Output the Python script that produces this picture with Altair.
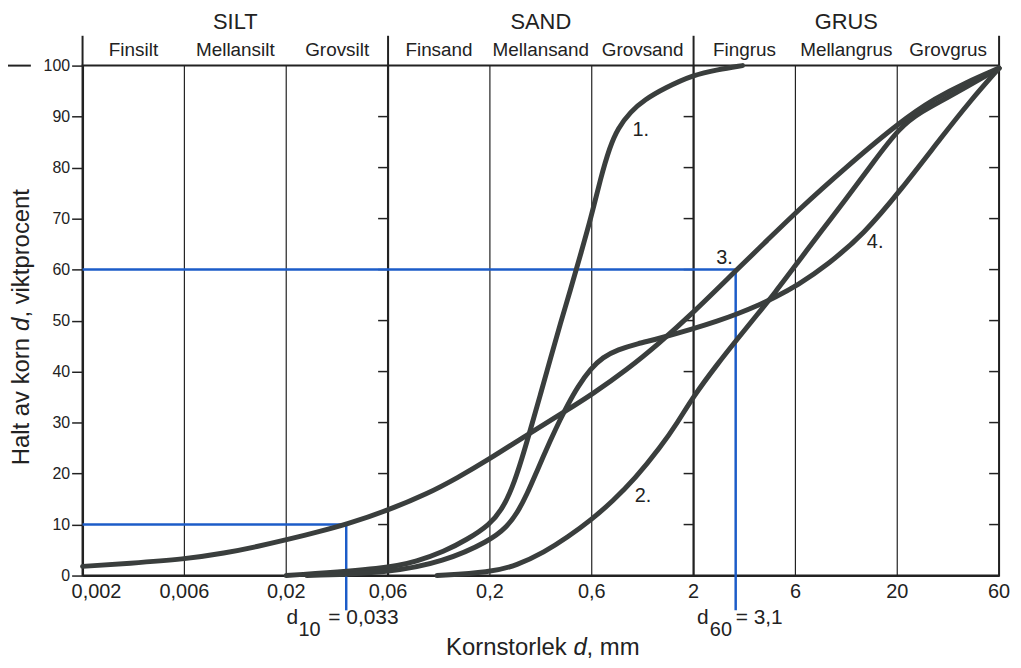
import math
import altair as alt
import pandas as pd

# ---------------- data ----------------
grid_values = [0.002, 0.006, 0.02, 0.06, 0.2, 0.6, 2, 6, 20, 60]
grid_labels = ["0,002", "0,006", "0,02", "0,06", "0,2", "0,6", "2", "6", "20", "60"]
main_bounds = [0.002, 0.06, 2, 60]
main_names = ["SILT", "SAND", "GRUS"]
sub_names = ["Finsilt", "Mellansilt", "Grovsilt", "Finsand", "Mellansand",
             "Grovsand", "Fingrus", "Mellangrus", "Grovgrus"]
y_ticks = [0, 10, 20, 30, 40, 50, 60, 70, 80, 90, 100]
inner_tick_lines = [0.06, 2, 60]
inner_tick_pct = [10, 20, 30, 40, 50, 60, 70, 80, 90]
thick_lines = [0.06, 2]

# curve 1
c1_d = [0.02, 0.06, 0.0845, 0.116, 0.152, 0.2, 0.228, 0.254, 0.283, 0.309, 0.345,
        0.384, 0.428, 0.477, 0.532, 0.594, 0.667, 0.742, 0.816, 0.951, 1.12, 1.42,
        2.0, 2.59, 3.39]
c1_p = [0, 1.4, 2.8, 4.7, 7, 10, 13, 17, 23, 28.5, 35.5,
        42.5, 49.5, 56, 63, 70, 78, 84, 87.7, 91, 93.3, 95.6,
        98.2, 99.2, 100]
# curve 2
c2_d = [0.107, 0.2, 0.268, 0.36, 0.462, 0.6, 0.769, 0.997, 1.354, 1.656, 2.0,
        2.59, 3.21, 3.98, 4.78, 6.14, 8.25, 10.7, 14.9, 20.6, 26.0, 33.7, 60]
c2_p = [0, 0.6, 2, 4.6, 7.5, 11, 14.6, 18.9, 25.2, 30, 35.2,
        41.5, 46.4, 51.2, 55.3, 61.3, 67.8, 73.4, 80.8, 88.0, 91, 93.5, 99.5]
# curve 3
c3_d = [0.002, 0.0033, 0.006, 0.0097, 0.01425, 0.02, 0.0279, 0.0382, 0.06, 0.0951,
        0.1354, 0.2, 0.309, 0.462, 0.6, 0.918, 1.308, 2.0, 3.14, 4.44, 6.14, 10.7,
        20.6, 30.4, 41.6, 60]
c3_p = [1.8, 2.4, 3.2, 4.4, 5.7, 7.0, 8.5, 10, 12.8, 16.0,
        19.1, 22.9, 28, 32.5, 35.5, 40.5, 45.3, 51.6, 59.7, 65.8, 71.5, 79.8,
        89, 93.7, 96.6, 99.5]
# curve 4
c4_d = [0.025, 0.06, 0.116, 0.2, 0.241, 0.268, 0.299, 0.333, 0.384, 0.428, 0.462,
        0.515, 0.594, 0.683, 0.816, 1.033, 1.308, 2.0, 2.59, 3.21, 3.98, 4.78,
        6.14, 8.75, 13.5, 20.6, 32.7, 43.8, 60]
c4_p = [0, 0.5, 2.7, 6.8, 9.6, 12.2, 16.0, 20.6, 26.5, 30.7, 33.4,
        37, 40.6, 42.8, 44.3, 45.5, 46.4, 48.4, 49.9, 51.3, 52.9, 54.5,
        56.9, 60.9, 67, 75.4, 86.3, 93, 99.5]

label_names = ["1.", "2.", "3.", "4."]
label_d = [1.07, 1.10, 2.79, 15.4]
label_p = [87.3, 15.6, 62.3, 65.5]

ref_d = [0.0382, 3.15]
ref_p = [10, 60]
ref_sub = ["10", "60"]
ref_val = ["= 0,033", "= 3,1"]

# ---------------- styling ----------------
FONT = "Liberation Sans"
INK = "#222222"
CURVE = "#3a3e3d"
BLUE = "#1c5cc8"
W, H = 922, 513

# the printed grid puts every size class at an equal distance (piecewise log scale)
xscale = alt.Scale(type="log", domain=grid_values,
                   range=[i * W / (len(grid_values) - 1) for i in range(len(grid_values))],
                   nice=False)
yscale = alt.Scale(domain=[0, 100], nice=False)

XAXIS = alt.Axis(values=grid_values, labels=False, ticks=False, grid=False,
                 domain=True, domainColor=INK, domainWidth=2, title=None)
YAXIS = alt.Axis(values=y_ticks, tickSize=11, tickWidth=1.5, tickColor=INK,
                 domainColor=INK, domainWidth=2, labelFont=FONT,
                 labelFontSize=16, labelColor=INK, labelPadding=2,
                 grid=False, title=None)


def X(f):
    return alt.X(f"{f}:Q", scale=xscale, axis=XAXIS)


def Y(f):
    return alt.Y(f"{f}:Q", scale=yscale, axis=YAXIS)


# ---------------- tables ----------------
grid_df = pd.DataFrame({"d": grid_values, "lab": grid_labels})
thick_df = pd.DataFrame({"d": thick_lines})
sep_df = pd.DataFrame({"d": main_bounds})
main_df = pd.DataFrame({
    "d": [math.sqrt(main_bounds[i] * main_bounds[i + 1]) for i in range(3)],
    "t": main_names})
sub_df = pd.DataFrame({
    "d": [math.sqrt(grid_values[i] * grid_values[i + 1]) for i in range(9)],
    "t": sub_names})
inner_df = pd.DataFrame([{"d": d, "p": p} for d in inner_tick_lines for p in inner_tick_pct])

rows = []
for name, ds, ps in [("1", c1_d, c1_p), ("2", c2_d, c2_p), ("3", c3_d, c3_p), ("4", c4_d, c4_p)]:
    for i, (d, p) in enumerate(zip(ds, ps)):
        rows.append({"curve": name, "d": d, "p": p, "i": i})
curves_df = pd.DataFrame(rows)
lab_df = pd.DataFrame({"t": label_names, "d": label_d, "p": label_p})
ref_df = pd.DataFrame({"d": ref_d, "p": ref_p, "x0": [grid_values[0]] * 2,
                       "sub": ref_sub, "val": ref_val})

# ---------------- layers ----------------
grid = alt.Chart(grid_df).mark_rule(color=INK, strokeWidth=1.2).encode(x=X("d"))

thick = alt.Chart(thick_df).mark_rule(color=INK, strokeWidth=2.2).encode(x=X("d"))

seps = alt.Chart(sep_df).mark_rule(color=INK, strokeWidth=2).encode(
    x=X("d"), y=alt.value(-30), y2=alt.value(0))

inner = alt.Chart(inner_df).mark_rule(color=INK, strokeWidth=1.5, xOffset=-10).encode(
    x=X("d"), x2=alt.X2("d:Q"), y=Y("p"))

blue_h = alt.Chart(ref_df).mark_rule(color=BLUE, strokeWidth=2.5).encode(
    x=X("x0"), x2=alt.X2("d:Q"), y=Y("p"))
blue_v = alt.Chart(ref_df).mark_rule(color=BLUE, strokeWidth=2.5).encode(
    x=X("d"), y=Y("p"), y2=alt.value(548))

curves = alt.Chart(curves_df).mark_line(
    interpolate="basis", strokeWidth=5, color=CURVE, strokeCap="round",
    strokeJoin="round").encode(
    x=X("d"), y=Y("p"), detail="curve:N", order="i:Q")

curve_labels = alt.Chart(lab_df).mark_text(font=FONT, fontSize=20, color=INK).encode(
    x=X("d"), y=Y("p"), text="t:N")

main_txt = alt.Chart(main_df).mark_text(font=FONT, fontSize=22, color=INK,
                                         baseline="middle").encode(
    x=X("d"), y=alt.value(-44), text="t:N")
sub_txt = alt.Chart(sub_df).mark_text(font=FONT, fontSize=19, color=INK,
                                       baseline="middle").encode(
    x=X("d"), y=alt.value(-16), text="t:N")

xlab_first = alt.Chart(grid_df.iloc[:1]).mark_text(
    font=FONT, fontSize=20, color=INK, align="left", dx=-11, baseline="middle").encode(
    x=X("d"), y=alt.value(530), text="lab:N")
xlab_rest = alt.Chart(grid_df.iloc[1:]).mark_text(
    font=FONT, fontSize=20, color=INK, align="center", baseline="middle").encode(
    x=X("d"), y=alt.value(530), text="lab:N")

# d10 / d60 annotations
ann = []
for k, (dd, dsub, deq) in enumerate([(-60, -48, -18), (-39, -26, 0)]):
    one = ref_df.iloc[k:k + 1]
    ann.append(alt.Chart(one).mark_text(font=FONT, fontSize=21, color=INK, align="left",
                                        baseline="middle", dx=dd, text="d").encode(
        x=X("d"), y=alt.value(556)))
    ann.append(alt.Chart(one).mark_text(font=FONT, fontSize=20, color=INK, align="left",
                                        baseline="middle", dx=dsub).encode(
        x=X("d"), y=alt.value(568), text="sub:N"))
    ann.append(alt.Chart(one).mark_text(font=FONT, fontSize=21, color=INK, align="left",
                                        baseline="middle", dx=deq).encode(
        x=X("d"), y=alt.value(556), text="val:N"))

# axis titles with italic d
xt1 = alt.Chart(pd.DataFrame({"t": ["Kornstorlek"]})).mark_text(
    font=FONT, fontSize=24, color=INK, align="right", baseline="middle").encode(
    x=alt.value(487), y=alt.value(586), text="t:N")
xt2 = alt.Chart(pd.DataFrame({"t": ["d"]})).mark_text(
    font=FONT, fontSize=24, color=INK, align="left", baseline="middle",
    fontStyle="italic").encode(x=alt.value(494), y=alt.value(586), text="t:N")
xt3 = alt.Chart(pd.DataFrame({"t": [", mm"]})).mark_text(
    font=FONT, fontSize=24, color=INK, align="left", baseline="middle").encode(
    x=alt.value(507), y=alt.value(586), text="t:N")

yt1 = alt.Chart(pd.DataFrame({"t": ["Halt av korn"]})).mark_text(
    font=FONT, fontSize=24, color=INK, align="right", baseline="middle", angle=270).encode(
    x=alt.value(-61), y=alt.value(274), text="t:N")
yt2 = alt.Chart(pd.DataFrame({"t": ["d"]})).mark_text(
    font=FONT, fontSize=24, color=INK, align="left", baseline="middle", angle=270,
    fontStyle="italic").encode(x=alt.value(-61), y=alt.value(267), text="t:N")
yt3 = alt.Chart(pd.DataFrame({"t": [", viktprocent"]})).mark_text(
    font=FONT, fontSize=24, color=INK, align="left", baseline="middle", angle=270).encode(
    x=alt.value(-61), y=alt.value(253.5), text="t:N")

dash = alt.Chart(pd.DataFrame({"t": ["dash"]})).mark_rule(color=INK, strokeWidth=2).encode(
    x=alt.value(-75), x2=alt.value(-52), y=alt.value(0))

chart = alt.layer(
    grid, thick, seps, inner, blue_h, blue_v, curves, curve_labels,
    main_txt, sub_txt, xlab_first, xlab_rest, *ann,
    xt1, xt2, xt3, yt1, yt2, yt3, dash
).properties(
    width=W, height=H,
    autosize=alt.AutoSizeParams(type="none"),
    padding={"left": 75, "top": 56, "right": 14, "bottom": 83},
    background="white",
).configure_view(stroke=INK, strokeWidth=2)

chart.save("out.html", embed_options={"renderer": "svg", "actions": False})
